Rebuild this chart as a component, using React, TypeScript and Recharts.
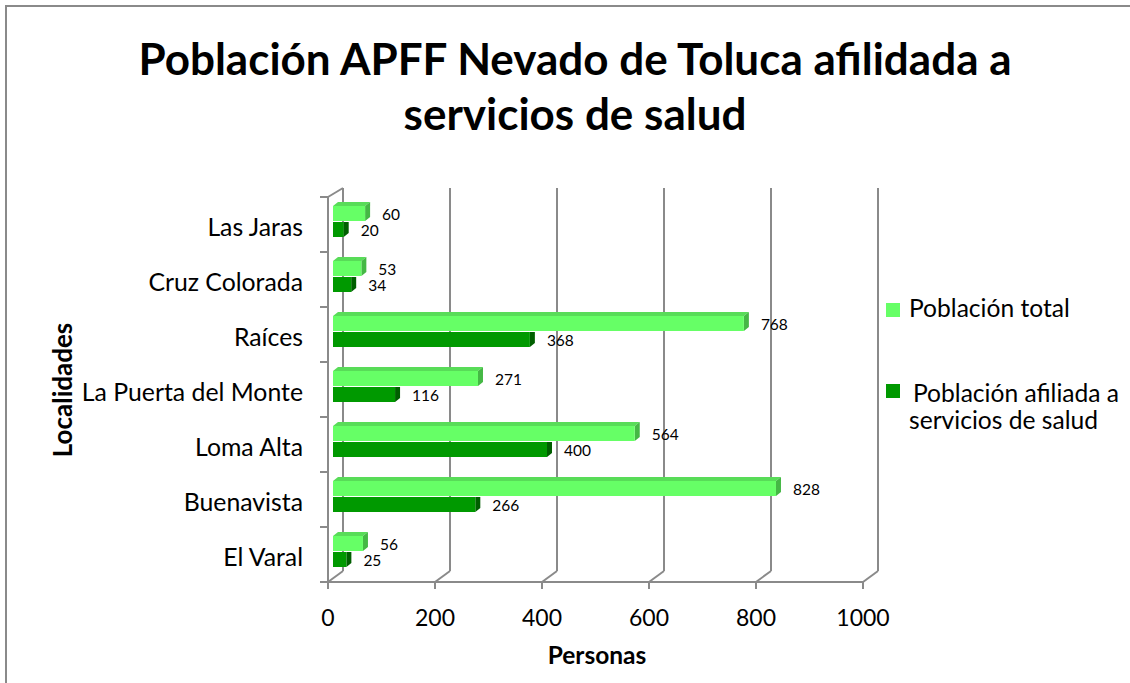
import React from 'react';
import { BarChart, Bar, XAxis, YAxis, CartesianGrid, LabelList } from 'recharts';

const localidades = ['Las Jaras', 'Cruz Colorada', 'Raíces', 'La Puerta del Monte', 'Loma Alta', 'Buenavista', 'El Varal'];
const poblacionTotal = [60, 53, 768, 271, 564, 828, 56];
const poblacionAfiliada = [20, 34, 368, 116, 400, 266, 25];
const xTicks = [0, 200, 400, 600, 800, 1000];

const data = localidades.map((name, i) => ({
  name,
  total: poblacionTotal[i],
  afiliada: poblacionAfiliada[i],
}));

const W = 1130;
const H = 683;
const PLOT_LEFT = 328;
const PLOT_RIGHT = 863;
const PLOT_TOP = 197;
const PLOT_BOTTOM = 582;
const X_AXIS_H = 40;
const BACK_DX = 15; // back wall offset (3d)
const BACK_DY = 11;
const BAR_DX = 5; // bar depth
const BAR_DY = 4;
const GRID = '#8a8a8a';
const FONT = 'Lato, "Open Sans", sans-serif';

const LIGHT = '#66FF66';
const DARK = '#009900';

const Bar3D = (props: any) => {
  const { x, y, width, height, face, side, top, showTop } = props;
  const x0 = x + 5;
  const y0 = y - 3;
  const x1 = x0 + width;
  const y1 = y0 + height;
  return (
    <g>
      {showTop && (
        <polygon
          points={`${x0},${y0} ${x0 + BAR_DX},${y0 - BAR_DY} ${x1 + BAR_DX},${y0 - BAR_DY} ${x1},${y0}`}
          fill={top}
        />
      )}
      <polygon
        points={
          showTop
            ? `${x1},${y0} ${x1 + BAR_DX},${y0 - BAR_DY} ${x1 + BAR_DX},${y1 - BAR_DY} ${x1},${y1}`
            : `${x1},${y0} ${x1 + BAR_DX},${y0} ${x1 + BAR_DX},${y1 - BAR_DY} ${x1},${y1}`
        }
        fill={side}
      />
      <rect x={x0} y={y0} width={width} height={height} fill={face} />
    </g>
  );
};

const valueLabel = (p: any) => (
  <text
    key={`lbl-${p.index}-${p.value}`}
    x={p.x + p.width + 5 + 17}
    y={p.y - 3 + p.height / 2 + 1 + 5.5}
    fontFamily={FONT}
    fontSize={15.5}
    fill="#000"
  >
    {p.value}
  </text>
);

const gridLine = (p: any) => {
  const { x1, y1, y2, index } = p;
  return (
    <g key={`grid-${index}`}>
      <line x1={x1 + BACK_DX} y1={y1 - 9} x2={x1 + BACK_DX} y2={y2 - BACK_DY} stroke={GRID} strokeWidth={2} />
      <line x1={x1} y1={y2} x2={x1 + BACK_DX} y2={y2 - BACK_DY} stroke={GRID} strokeWidth={2} />
      {index === 0 && (
        <line x1={x1} y1={y1} x2={x1 + BACK_DX} y2={y1 - 9} stroke={GRID} strokeWidth={2} />
      )}
    </g>
  );
};

const XTick = (p: any) => (
  <text x={p.x} y={PLOT_BOTTOM + 44} textAnchor="middle" fontFamily={FONT} fontSize={23} fill="#000">
    {p.payload.value}
  </text>
);

const band = (PLOT_BOTTOM - PLOT_TOP) / localidades.length;

const YTick = (p: any) => {
  const cy = p.y;
  return (
    <g>
      <line x1={PLOT_LEFT - 8} y1={cy - band / 2} x2={PLOT_LEFT} y2={cy - band / 2} stroke={GRID} strokeWidth={2} />
      {p.index === localidades.length - 1 && (
        <line x1={PLOT_LEFT - 8} y1={cy + band / 2} x2={PLOT_LEFT} y2={cy + band / 2} stroke={GRID} strokeWidth={2} />
      )}
      <text x={PLOT_LEFT - 25} y={cy + 11} textAnchor="end" fontFamily={FONT} fontSize={24.8} fill="#000">
        {p.payload.value}
      </text>
    </g>
  );
};

const legendText = { position: 'absolute' as const, fontFamily: FONT, fontSize: 24.6, lineHeight: '27px', color: '#000', whiteSpace: 'nowrap' as const };

const App = () => {
  return (
    <div style={{ position: 'absolute', left: 0, top: 0, width: W, height: H, background: '#fff', overflow: 'hidden' }}>
      <div
        style={{
          position: 'absolute',
          left: 5,
          top: 5,
          width: W,
          height: H,
          borderTop: `2px solid ${GRID}`,
          borderLeft: `2px solid ${GRID}`,
        }}
      />
      <div
        style={{
          position: 'absolute',
          left: 0,
          top: 31,
          width: 1150,
          textAlign: 'center',
          fontFamily: FONT,
          fontWeight: 700,
          fontSize: 44,
          lineHeight: '55px',
          color: '#000',
        }}
      >
        Población APFF Nevado de Toluca afilidada a<br />servicios de salud
      </div>
      <div style={{ position: 'absolute', left: 0, top: 0 }}>
        <BarChart
          width={W}
          height={H}
          data={data}
          layout="vertical"
          margin={{ top: PLOT_TOP, right: W - PLOT_RIGHT, bottom: H - PLOT_BOTTOM - X_AXIS_H, left: 0 }}
          barSize={15}
          barGap={1}
        >
          <CartesianGrid horizontal={false} vertical={gridLine} stroke={GRID} />
          <XAxis
            type="number"
            domain={[0, 1000]}
            ticks={xTicks}
            height={X_AXIS_H}
            axisLine={{ stroke: GRID, strokeWidth: 2 }}
            tickLine={{ stroke: GRID, strokeWidth: 2 }}
            tickSize={7}
            tick={<XTick />}
          />
          <YAxis
            type="category"
            dataKey="name"
            width={PLOT_LEFT}
            axisLine={{ stroke: GRID, strokeWidth: 2 }}
            tickLine={false}
            tick={<YTick />}
            interval={0}
          />
          <Bar
            dataKey="total"
            name="Población total"
            isAnimationActive={false}
            shape={(p: any) => <Bar3D {...p} face={LIGHT} side="#45B845" top="#58DC58" showTop />}
          >
            <LabelList dataKey="total" content={valueLabel} />
          </Bar>
          <Bar
            dataKey="afiliada"
            name="Población afiliada a servicios de salud"
            isAnimationActive={false}
            shape={(p: any) => <Bar3D {...p} face={DARK} side="#005F00" top="#008200" showTop={false} />}
          >
            <LabelList dataKey="afiliada" content={valueLabel} />
          </Bar>
        </BarChart>
      </div>
      <div
        style={{
          position: 'absolute',
          left: 62,
          top: 390,
          transform: 'translate(-50%, -50%) rotate(-90deg)',
          fontFamily: FONT,
          fontWeight: 700,
          fontSize: 26,
          lineHeight: 1,
          color: '#000',
          whiteSpace: 'nowrap',
        }}
      >
        Localidades
      </div>
      <div
        style={{
          position: 'absolute',
          left: 497,
          top: 641,
          width: 200,
          textAlign: 'center',
          fontFamily: FONT,
          fontWeight: 700,
          fontSize: 24.5,
          lineHeight: '28px',
          color: '#000',
        }}
      >
        Personas
      </div>
      <div style={{ position: 'absolute', left: 886, top: 303, width: 14, height: 14, background: LIGHT }} />
      <div style={{ ...legendText, left: 909, top: 294 }}>Población total</div>
      <div style={{ position: 'absolute', left: 886, top: 384, width: 14, height: 14, background: DARK }} />
      <div style={{ ...legendText, left: 913, top: 379 }}>Población afiliada a</div>
      <div style={{ ...legendText, left: 909, top: 406 }}>servicios de salud</div>
    </div>
  );
};

export default App;
